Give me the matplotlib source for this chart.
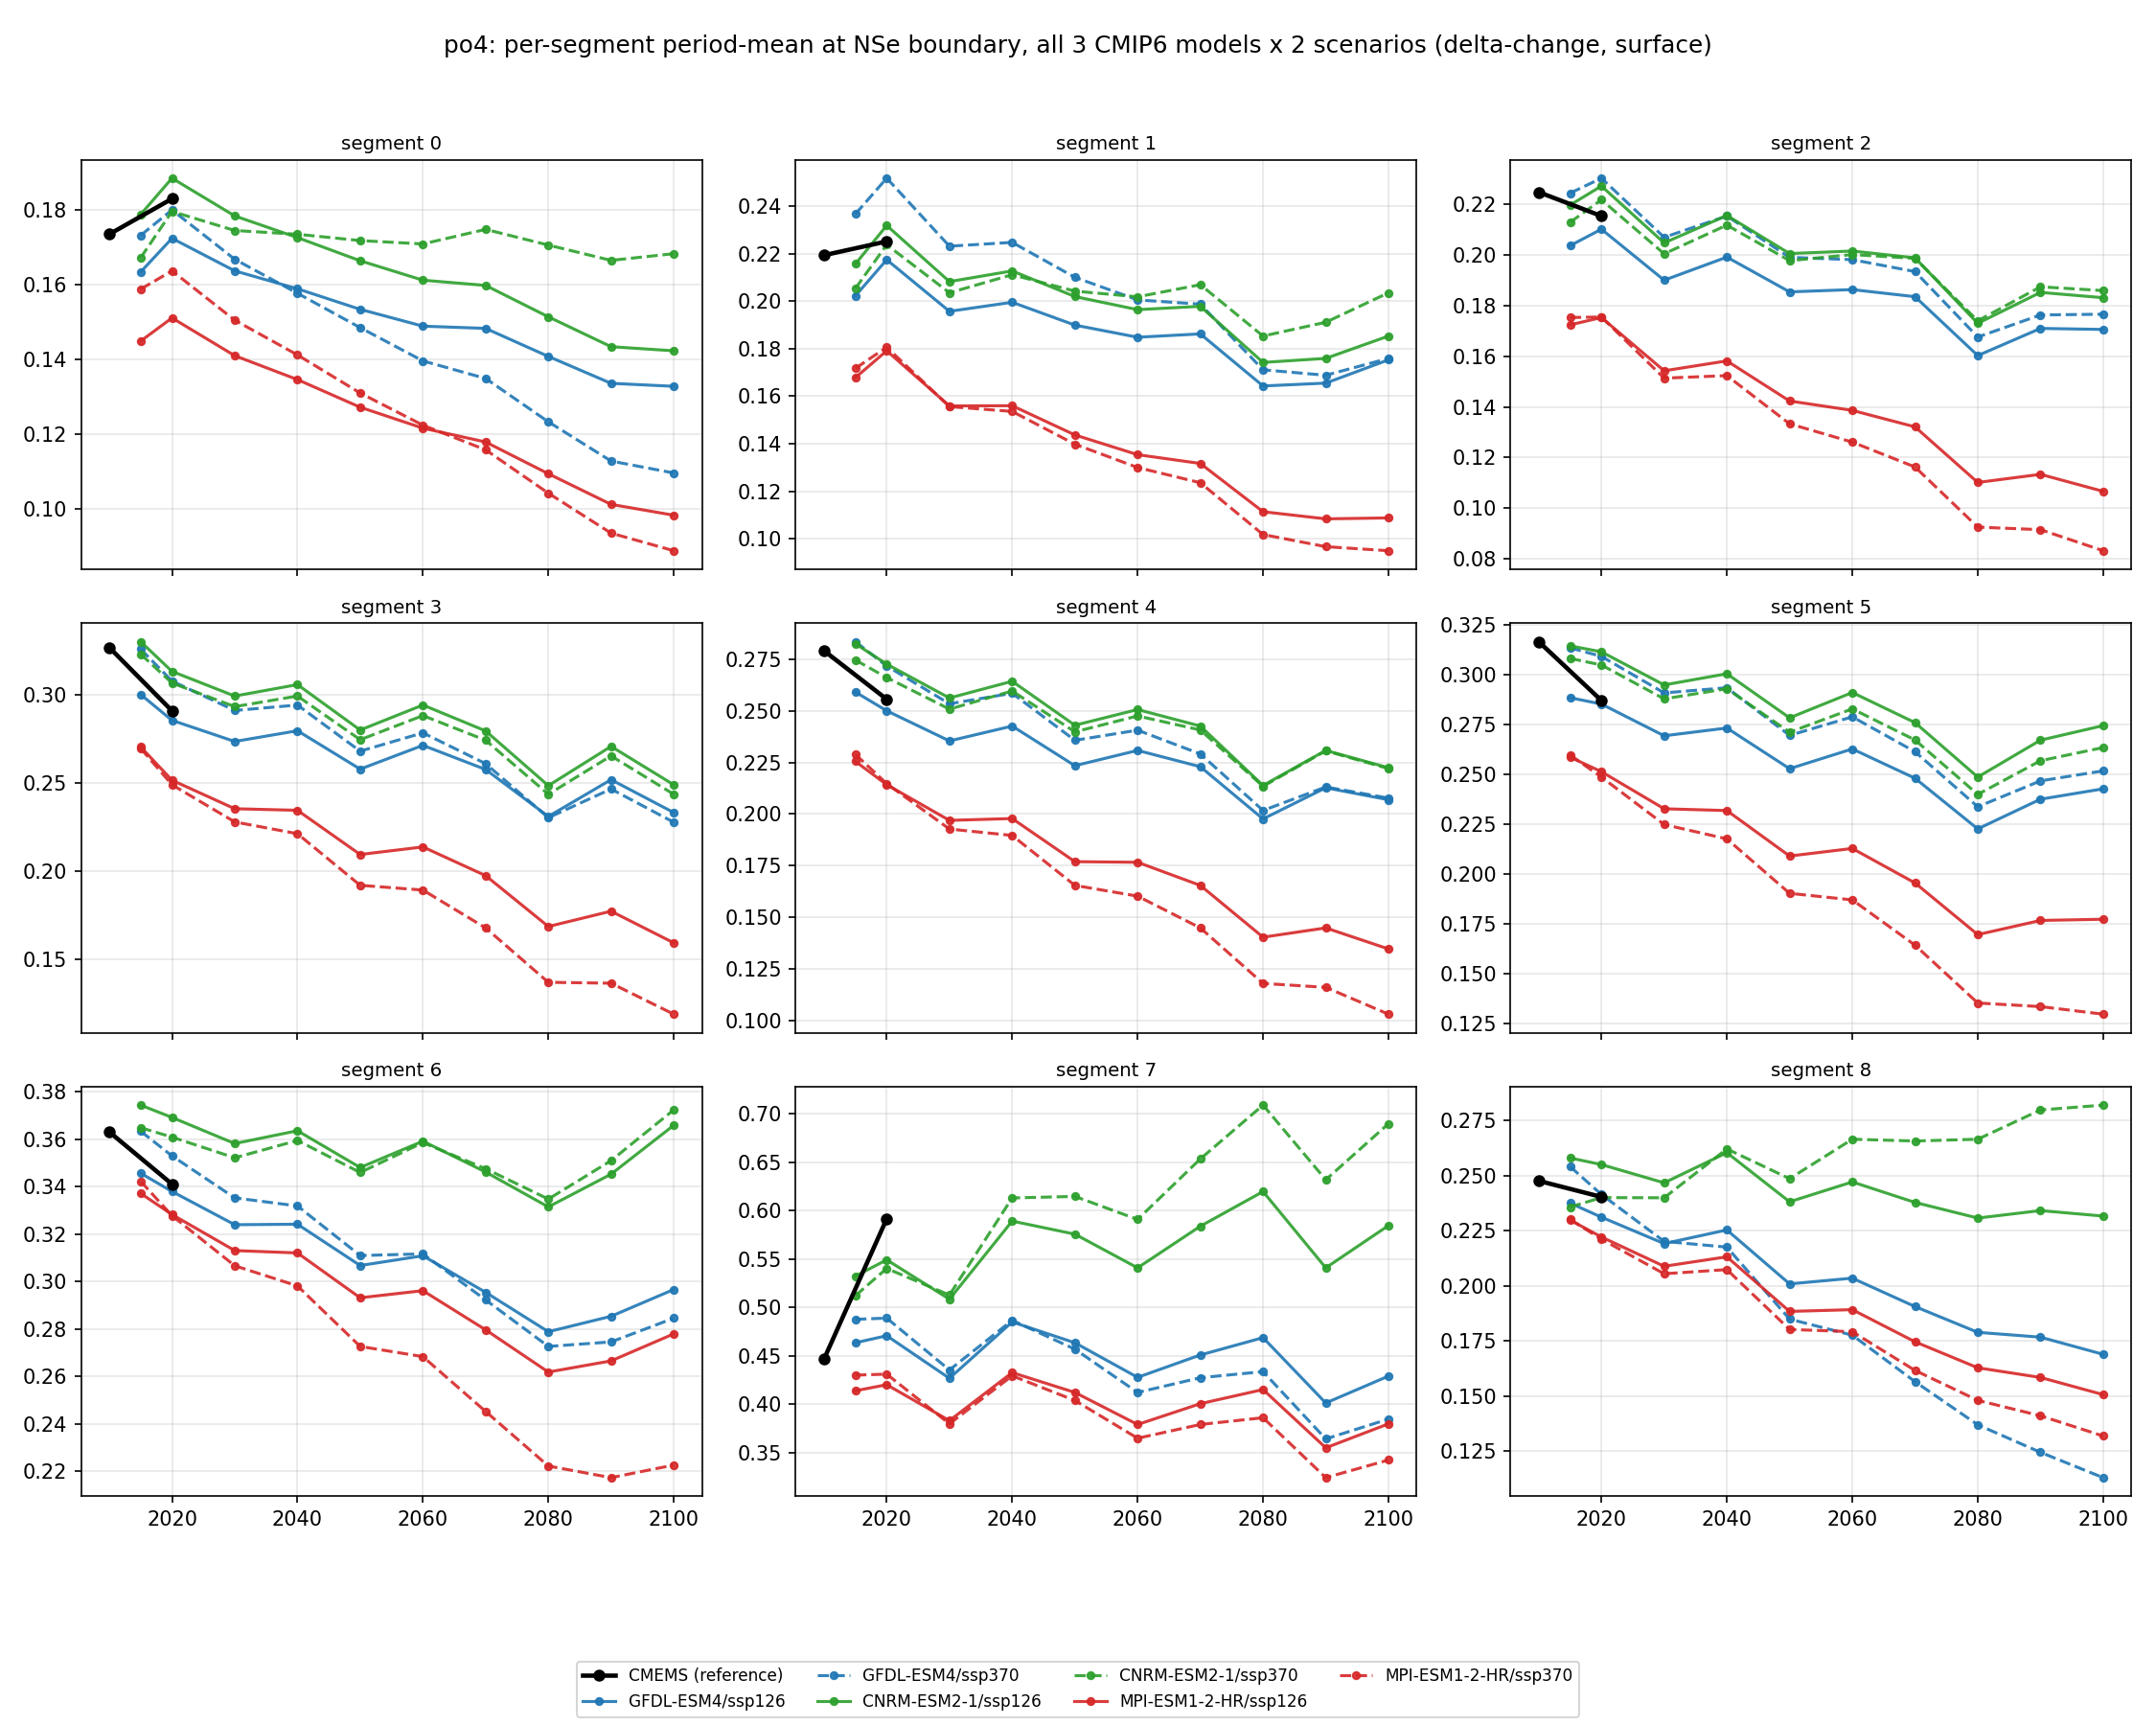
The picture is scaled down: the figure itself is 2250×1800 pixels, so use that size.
import matplotlib
matplotlib.use("Agg")
import matplotlib.pyplot as plt

years_ref = [2010, 2020]
years = [2015, 2020, 2030, 2040, 2050, 2060, 2070, 2080, 2090, 2100]
segments = ['segment %d' % i for i in range(9)]

# CMEMS reference, one pair per segment
cmems = [[0.1735, 0.1830], [0.2193, 0.2251], [0.2246, 0.2152],
         [0.3269, 0.2909], [0.2791, 0.2556], [0.3167, 0.2872],
         [0.3630, 0.3410], [0.4467, 0.5917], [0.2477, 0.2404]]

gfdl_126 = [
    [0.1634, 0.1724, 0.1637, 0.1589, 0.1534, 0.1489, 0.1483, 0.1408, 0.1336, 0.1328],
    [0.2022, 0.2174, 0.1957, 0.1995, 0.1899, 0.1848, 0.1862, 0.1643, 0.1655, 0.1753],
    [0.2035, 0.2100, 0.1899, 0.1990, 0.1853, 0.1862, 0.1834, 0.1602, 0.1709, 0.1705],
    [0.3002, 0.2855, 0.2735, 0.2796, 0.2578, 0.2713, 0.2576, 0.2309, 0.2518, 0.2331],
    [0.2591, 0.2500, 0.2354, 0.2426, 0.2234, 0.2308, 0.2229, 0.1976, 0.2127, 0.2069],
    [0.2886, 0.2854, 0.2695, 0.2734, 0.2530, 0.2629, 0.2482, 0.2228, 0.2377, 0.2429],
    [0.3456, 0.3379, 0.3239, 0.3241, 0.3067, 0.3108, 0.2954, 0.2788, 0.2853, 0.2966],
    [0.4636, 0.4709, 0.4269, 0.4851, 0.4636, 0.4279, 0.4510, 0.4689, 0.4014, 0.4292],
    [0.2376, 0.2312, 0.2192, 0.2254, 0.2009, 0.2035, 0.1906, 0.1789, 0.1767, 0.1689],
]
gfdl_370 = [
    [0.1732, 0.1800, 0.1668, 0.1577, 0.1485, 0.1396, 0.1349, 0.1233, 0.1128, 0.1096],
    [0.2366, 0.2517, 0.2231, 0.2247, 0.2100, 0.2005, 0.1987, 0.1711, 0.1688, 0.1759],
    [0.2242, 0.2301, 0.2068, 0.2152, 0.1989, 0.1980, 0.1933, 0.1675, 0.1762, 0.1765],
    [0.3260, 0.3078, 0.2911, 0.2942, 0.2680, 0.2784, 0.2609, 0.2302, 0.2465, 0.2276],
    [0.2835, 0.2717, 0.2534, 0.2585, 0.2357, 0.2406, 0.2291, 0.2017, 0.2131, 0.2077],
    [0.3136, 0.3093, 0.2910, 0.2936, 0.2697, 0.2790, 0.2615, 0.2339, 0.2469, 0.2519],
    [0.3633, 0.3529, 0.3352, 0.3318, 0.3109, 0.3116, 0.2922, 0.2726, 0.2745, 0.2845],
    [0.4878, 0.4891, 0.4355, 0.4868, 0.4570, 0.4123, 0.4275, 0.4338, 0.3643, 0.3848],
    [0.2542, 0.2415, 0.2202, 0.2176, 0.1849, 0.1776, 0.1565, 0.1369, 0.1244, 0.1129],
]
cnrm_126 = [
    [0.1788, 0.1885, 0.1784, 0.1726, 0.1664, 0.1612, 0.1598, 0.1514, 0.1434, 0.1423],
    [0.2156, 0.2318, 0.2082, 0.2127, 0.2019, 0.1964, 0.1978, 0.1742, 0.1759, 0.1853],
    [0.2195, 0.2270, 0.2046, 0.2154, 0.2004, 0.2014, 0.1987, 0.1729, 0.1851, 0.1830],
    [0.3302, 0.3133, 0.2993, 0.3058, 0.2800, 0.2942, 0.2795, 0.2484, 0.2707, 0.2489],
    [0.2825, 0.2726, 0.2562, 0.2643, 0.2430, 0.2506, 0.2426, 0.2138, 0.2308, 0.2224],
    [0.3146, 0.3116, 0.2950, 0.3006, 0.2785, 0.2912, 0.2761, 0.2488, 0.2673, 0.2746],
    [0.3743, 0.3691, 0.3581, 0.3635, 0.3480, 0.3591, 0.3461, 0.3314, 0.3452, 0.3658],
    [0.5324, 0.5493, 0.5086, 0.5893, 0.5758, 0.5410, 0.5840, 0.6198, 0.5410, 0.5847],
    [0.2581, 0.2551, 0.2468, 0.2605, 0.2382, 0.2472, 0.2379, 0.2308, 0.2342, 0.2317],
]
cnrm_370 = [
    [0.1672, 0.1796, 0.1745, 0.1735, 0.1718, 0.1709, 0.1748, 0.1706, 0.1665, 0.1683],
    [0.2053, 0.2237, 0.2035, 0.2111, 0.2042, 0.2018, 0.2069, 0.1853, 0.1911, 0.2035],
    [0.2127, 0.2216, 0.2003, 0.2116, 0.1976, 0.2000, 0.1985, 0.1739, 0.1873, 0.1858],
    [0.3231, 0.3067, 0.2933, 0.2993, 0.2745, 0.2882, 0.2742, 0.2435, 0.2653, 0.2435],
    [0.2746, 0.2661, 0.2508, 0.2596, 0.2398, 0.2475, 0.2407, 0.2134, 0.2306, 0.2220],
    [0.3083, 0.3050, 0.2880, 0.2931, 0.2713, 0.2830, 0.2674, 0.2401, 0.2570, 0.2636],
    [0.3648, 0.3608, 0.3521, 0.3594, 0.3459, 0.3585, 0.3475, 0.3347, 0.3509, 0.3723],
    [0.5122, 0.5404, 0.5129, 0.6132, 0.6148, 0.5910, 0.6535, 0.7091, 0.6320, 0.6899],
    [0.2358, 0.2401, 0.2400, 0.2622, 0.2487, 0.2666, 0.2658, 0.2666, 0.2799, 0.2821],
]
mpi_126 = [
    [0.1449, 0.1511, 0.1410, 0.1346, 0.1272, 0.1216, 0.1179, 0.1094, 0.1012, 0.0983],
    [0.1678, 0.1791, 0.1559, 0.1560, 0.1437, 0.1354, 0.1317, 0.1114, 0.1084, 0.1088],
    [0.1723, 0.1752, 0.1542, 0.1581, 0.1423, 0.1386, 0.1321, 0.1102, 0.1134, 0.1067],
    [0.2704, 0.2515, 0.2353, 0.2344, 0.2093, 0.2136, 0.1973, 0.1684, 0.1771, 0.1591],
    [0.2255, 0.2142, 0.1969, 0.1978, 0.1769, 0.1766, 0.1654, 0.1403, 0.1448, 0.1346],
    [0.2588, 0.2515, 0.2329, 0.2320, 0.2092, 0.2130, 0.1957, 0.1698, 0.1769, 0.1775],
    [0.3371, 0.3282, 0.3130, 0.3120, 0.2931, 0.2961, 0.2796, 0.2618, 0.2665, 0.2779],
    [0.4140, 0.4203, 0.3832, 0.4328, 0.4123, 0.3792, 0.4007, 0.4153, 0.3551, 0.3799],
    [0.2299, 0.2222, 0.2089, 0.2132, 0.1884, 0.1892, 0.1746, 0.1628, 0.1584, 0.1506],
]
mpi_370 = [
    [0.1588, 0.1637, 0.1505, 0.1412, 0.1310, 0.1224, 0.1158, 0.1042, 0.0935, 0.0888],
    [0.1717, 0.1806, 0.1556, 0.1536, 0.1398, 0.1300, 0.1236, 0.1018, 0.0967, 0.0950],
    [0.1752, 0.1754, 0.1513, 0.1523, 0.1333, 0.1261, 0.1163, 0.0926, 0.0916, 0.0833],
    [0.2696, 0.2489, 0.2278, 0.2211, 0.1918, 0.1891, 0.1676, 0.1367, 0.1362, 0.1186],
    [0.2289, 0.2147, 0.1927, 0.1896, 0.1654, 0.1602, 0.1448, 0.1179, 0.1160, 0.1030],
    [0.2599, 0.2488, 0.2250, 0.2178, 0.1905, 0.1872, 0.1645, 0.1355, 0.1337, 0.1299],
    [0.3422, 0.3277, 0.3066, 0.2981, 0.2726, 0.2683, 0.2452, 0.2222, 0.2173, 0.2226],
    [0.4302, 0.4312, 0.3799, 0.4295, 0.4040, 0.3650, 0.3792, 0.3862, 0.3243, 0.3425],
    [0.2302, 0.2212, 0.2055, 0.2074, 0.1802, 0.1792, 0.1616, 0.1480, 0.1410, 0.1318],
]

# (label, values, colour, linestyle)
series = [
    ('GFDL-ESM4/ssp126', gfdl_126, 'tab:blue', '-'),
    ('GFDL-ESM4/ssp370', gfdl_370, 'tab:blue', '--'),
    ('CNRM-ESM2-1/ssp126', cnrm_126, 'tab:green', '-'),
    ('CNRM-ESM2-1/ssp370', cnrm_370, 'tab:green', '--'),
    ('MPI-ESM1-2-HR/ssp126', mpi_126, 'tab:red', '-'),
    ('MPI-ESM1-2-HR/ssp370', mpi_370, 'tab:red', '--'),
]

fig, axes = plt.subplots(3, 3, figsize=(15, 12), dpi=150, sharex=True)
fig.subplots_adjust(left=0.0376, right=0.9886, top=0.9075, bottom=0.1326,
                    wspace=0.151, hspace=0.131)

for i, ax in enumerate(axes.flat):
    ax.plot(years_ref, cmems[i], color='black', lw=2.2, marker='o', ms=5,
            label='CMEMS (reference)', zorder=5)
    for label, vals, col, ls in series:
        ax.plot(years, vals[i], color=col, ls=ls, lw=1.5, marker='o', ms=3.5,
                alpha=0.9, label=label)
    ax.set_title(segments[i], fontsize=9.5, pad=5)
    ax.grid(True, alpha=0.3)
    ax.tick_params(labelsize=10)

handles, labels = axes[0, 0].get_legend_handles_labels()
fig.legend(handles, labels, loc='lower center', ncol=4, fontsize=8.1,
           bbox_to_anchor=(0.5, 0.0))
fig.suptitle('po4: per-segment period-mean at NSe boundary, all 3 CMIP6 models x 2 scenarios '
             '(delta-change, surface)', fontsize=11.9, y=0.98)

fig.savefig('out.png', dpi=150)
